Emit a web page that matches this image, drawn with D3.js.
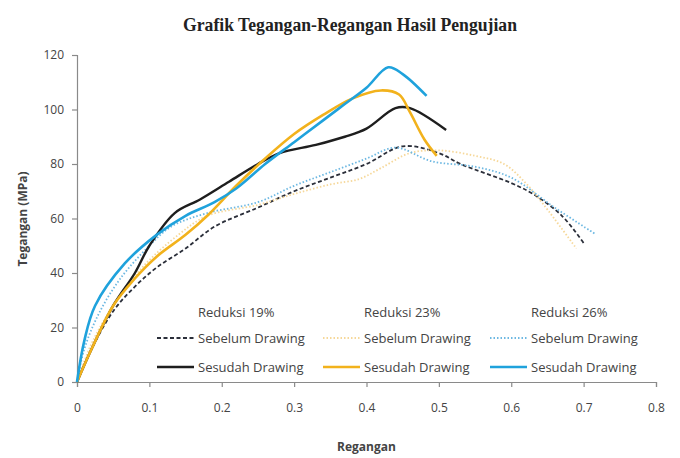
<!DOCTYPE html>
<html>
<head>
<meta charset="utf-8">
<script src="https://cdn.jsdelivr.net/npm/d3@7"></script>
<style>
  body { margin: 0; background: #fff; }
  text { font-family: "Liberation Sans Narrow", "Open Sans", sans-serif; fill: #444; }
</style>
</head>
<body>
<svg width="680" height="458"></svg>
<script>
// Data: [regangan, tegangan]
const sebelum19 = [[0,0],[0.02,12],[0.05,26],[0.08,35],[0.11,42],[0.15,49],[0.19,57],[0.25,64],[0.3,70],[0.35,75],[0.4,80],[0.45,86.5],[0.5,84],[0.53,80],[0.6,73],[0.63,69],[0.67,61],[0.7,51]]
const sesudah19 = [[0,0],[0.02,12],[0.05,28],[0.08,40],[0.1,50],[0.135,62],[0.17,67],[0.21,73.5],[0.25,80],[0.28,84],[0.33,87],[0.37,90],[0.4,93],[0.44,100.5],[0.46,100.5],[0.51,92.5]]
const sebelum23 = [[0,0],[0.02,14],[0.05,28],[0.09,42],[0.14,54],[0.18,61],[0.25,65],[0.3,69],[0.35,72.5],[0.39,74.5],[0.42,78.5],[0.46,84],[0.5,85],[0.55,83],[0.59,80],[0.62,73],[0.645,65],[0.69,49]]
const sesudah23 = [[0,0],[0.02,12],[0.05,28],[0.08,38],[0.11,46],[0.15,54],[0.18,61],[0.22,72],[0.26,82],[0.3,91],[0.34,98],[0.38,104],[0.42,107],[0.445,105.5],[0.46,99],[0.48,89],[0.497,83]]
const sebelum26 = [[0,0],[0.01,12],[0.03,25],[0.06,38],[0.1,50],[0.13,57],[0.18,62],[0.25,66],[0.3,72],[0.35,77],[0.4,82],[0.44,86],[0.49,81],[0.55,79],[0.6,75],[0.66,64],[0.715,54.5]]
const sesudah26 = [[0,0],[0.01,15],[0.025,28],[0.066,43.5],[0.11,54],[0.15,61],[0.19,66],[0.22,71],[0.26,80],[0.3,88],[0.34,96],[0.37,102],[0.4,108],[0.43,115.5],[0.45,113],[0.483,105]]

const groups = ["Reduksi 19%", "Reduksi 23%", "Reduksi 26%"]
const rowLabels = ["Sebelum Drawing", "Sesudah Drawing"]
const xTicks = [0, 0.1, 0.2, 0.3, 0.4, 0.5, 0.6, 0.7, 0.8]
const yTicks = [0, 20, 40, 60, 80, 100, 120]

const series = [
  { g: 0, row: 0, data: sebelum19, color: "#2b2f3a", dash: "4,2.5", w: 1.8 },
  { g: 1, row: 0, data: sebelum23, color: "#f6d89a", dash: "1.5,2", w: 1.8 },
  { g: 2, row: 0, data: sebelum26, color: "#6db8e2", dash: "1.5,2", w: 1.8 },
  { g: 0, row: 1, data: sesudah19, color: "#1e1e1e", dash: null, w: 2.4 },
  { g: 1, row: 1, data: sesudah23, color: "#f2b21c", dash: null, w: 2.6 },
  { g: 2, row: 1, data: sesudah26, color: "#1fa2dc", dash: null, w: 2.6 }
]

const svg = d3.select("svg")

const x = d3.scaleLinear().domain([0, 0.8]).range([77, 656])
const y = d3.scaleLinear().domain([0, 120]).range([382, 55])

// Title
svg.append("text")
    .attr("x", 350).attr("y", 31)
    .attr("text-anchor", "middle")
    .attr("textLength", 334)
    .attr("lengthAdjust", "spacingAndGlyphs")
    .style("font-family", "'Liberation Serif', serif")
    .style("font-weight", "bold")
    .style("font-size", "18px")
    .style("fill", "#222")
    .text("Grafik Tegangan-Regangan Hasil Pengujian")

// Axes
svg.append("g")
    .attr("transform", "translate(0,382)")
    .call(d3.axisBottom(x).tickValues(xTicks).tickSize(5).tickPadding(16).tickFormat(d => d))
svg.append("g")
    .attr("transform", "translate(77,0)")
    .call(d3.axisLeft(y).tickValues(yTicks).tickSize(5).tickPadding(8))

svg.selectAll(".domain, .tick line").attr("stroke", "#8a8a8a").attr("stroke-width", 1.2)
svg.selectAll(".tick text").style("font-size", "12px").style("fill", "#444")

// Axis titles
svg.append("text")
    .attr("x", x(0.4)).attr("y", 451)
    .attr("text-anchor", "middle")
    .style("font-weight", "bold").style("font-size", "12px")
    .text("Regangan")
svg.append("text")
    .attr("transform", "translate(27,219) rotate(-90)")
    .attr("text-anchor", "middle")
    .style("font-weight", "bold").style("font-size", "12px")
    .text("Tegangan (MPa)")

// Curves
const line = d3.line()
    .x(d => x(d[0]))
    .y(d => y(d[1]))
    .curve(d3.curveCatmullRom.alpha(0.5))

svg.append("g").selectAll("path")
    .data(series)
    .join("path")
    .attr("d", d => line(d.data))
    .attr("fill", "none")
    .attr("stroke", d => d.color)
    .attr("stroke-width", d => d.w)
    .attr("stroke-dasharray", d => d.dash)

// Legend
const colX = [157, 323, 490]
const rowY = [338, 367]
const legend = svg.append("g")

legend.selectAll("text.head")
    .data(groups)
    .join("text")
    .attr("class", "head")
    .attr("x", (d, i) => colX[i] + 41)
    .attr("y", 317)
    .style("font-size", "13px")
    .text(d => d)

legend.selectAll("line")
    .data(series)
    .join("line")
    .attr("x1", d => colX[d.g])
    .attr("x2", d => colX[d.g] + 37)
    .attr("y1", d => rowY[d.row])
    .attr("y2", d => rowY[d.row])
    .attr("stroke", d => d.color)
    .attr("stroke-width", d => d.w)
    .attr("stroke-dasharray", d => d.dash)

legend.selectAll("text.item")
    .data(series)
    .join("text")
    .attr("class", "item")
    .attr("x", d => colX[d.g] + 41)
    .attr("y", d => rowY[d.row] + 5)
    .style("font-size", "13px")
    .text(d => rowLabels[d.row])
</script>
</body>
</html>
